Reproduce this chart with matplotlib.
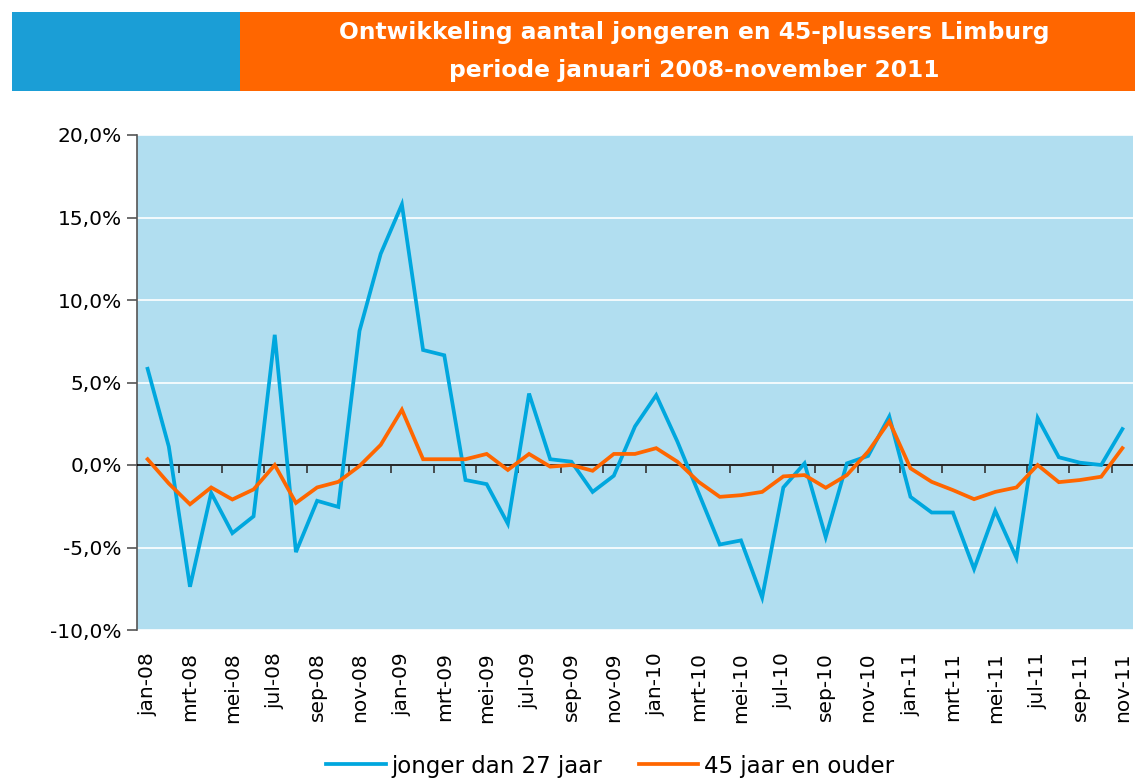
import matplotlib
matplotlib.use("Agg")
import matplotlib.pyplot as plt
from matplotlib.patches import Rectangle
from matplotlib.ticker import NullFormatter

months = ["jan", "feb", "mrt", "apr", "mei", "jun", "jul", "aug", "sep", "okt", "nov", "dec"]
categories = [f"{m}-{y:02d}" for y in (8, 9, 10, 11) for m in months][:47]

jongeren = [5.83, 1.12, -7.38, -1.69, -4.13, -3.11, 7.89, -5.28, -2.17, -2.54, 8.13, 12.8,
            15.79, 6.97, 6.65, -0.91, -1.16, -3.56, 4.33, 0.35, 0.20, -1.63, -0.65, 2.34,
            4.23, 1.42, -1.69, -4.82, -4.57, -8.03, -1.36, 0.10, -4.37, 0.10, 0.55, 2.94,
            -1.93, -2.88, -2.88, -6.30, -2.78, -5.63, 2.85, 0.47, 0.14, 0.00, 2.18]
plus45 = [0.35, -1.12, -2.38, -1.36, -2.09, -1.48, 0.00, -2.30, -1.36, -1.02, -0.06, 1.22,
          3.35, 0.35, 0.35, 0.35, 0.67, -0.30, 0.67, -0.10, 0.00, -0.35, 0.67, 0.67,
          1.02, 0.20, -1.02, -1.93, -1.83, -1.63, -0.69, -0.61, -1.38, -0.61, 0.81, 2.64,
          -0.20, -1.02, -1.52, -2.07, -1.63, -1.36, 0.00, -1.04, -0.91, -0.71, 1.02]

series_names = ["jonger dan 27 jaar", "45 jaar en ouder"]
title_lines = ["Ontwikkeling aantal jongeren en 45-plussers Limburg",
               "periode januari 2008-november 2011"]
yticks = [-10, -5, 0, 5, 10, 15, 20]

BLUE = "#00A7DE"
ORANGE = "#FF6600"
BG = "#B1DEF0"
BANNER_BLUE = "#1B9ED6"

W, H = 1135, 778
fig = plt.figure(figsize=(W / 100, H / 100), dpi=100)
fig.patch.set_facecolor("white")

# Banner
fig.patches.append(Rectangle((12 / W, 1 - 91 / H), (240 - 12) / W, 79 / H,
                             transform=fig.transFigure, facecolor=BANNER_BLUE,
                             edgecolor="none", zorder=0))
fig.patches.append(Rectangle((240 / W, 1 - 91 / H), (W - 240) / W, 79 / H,
                             transform=fig.transFigure, facecolor=ORANGE,
                             edgecolor="none", zorder=0))
fig.text(694 / W, 1 - 33 / H, title_lines[0], color="white", fontsize=16.8,
         fontweight="bold", ha="center", va="center")
fig.text(694 / W, 1 - 71 / H, title_lines[1], color="white", fontsize=16.8,
         fontweight="bold", ha="center", va="center")

left, right, top, bottom = 137 / W, 1133 / W, 1 - 135 / H, 1 - 630 / H
ax = fig.add_axes([left, bottom, right - left, top - bottom])
ax.set_facecolor(BG)

x = list(range(len(categories)))
ax.plot(x, jongeren, color=BLUE, lw=2.7, label=series_names[0], zorder=4,
        solid_joinstyle="miter")
ax.plot(x, plus45, color=ORANGE, lw=2.7, label=series_names[1], zorder=5,
        solid_joinstyle="miter")

ymin, ymax = -10, 20
ax.set_xlim(-0.5, len(categories) - 0.5)
ax.set_ylim(ymin, ymax)
ax.set_yticks(yticks)
ax.set_yticklabels([f"{v:.1f}%".replace(".", ",") for v in yticks], fontsize=14.5)
ax.yaxis.grid(True, color="white", lw=1.2)
ax.set_axisbelow(True)
ax.axhline(0, color="black", lw=1.2, zorder=3)

for s in ["top", "right", "bottom"]:
    ax.spines[s].set_visible(False)
ax.spines["left"].set_color("#555555")
ax.spines["left"].set_linewidth(1.2)
ax.tick_params(axis="y", direction="out", length=7, width=1.2, color="#555555", pad=4)

ax.set_xticks(x[::2])
ax.set_xticklabels(categories[::2], rotation=90, fontsize=14.5)
ax.tick_params(axis="x", length=0, pad=16)

# tick marks on the zero line between categories
sec = ax.secondary_xaxis((0 - ymin) / (ymax - ymin))
sec.spines["bottom"].set_visible(False)
sec.set_xticks([i + 1.5 for i in range(0, len(categories) - 1, 2)])
sec.xaxis.set_major_formatter(NullFormatter())
sec.tick_params(axis="x", direction="out", length=6, width=1.2, color="#333333")

fig.legend(loc="center", bbox_to_anchor=(610 / W, 1 - 766 / H), ncol=2, frameon=False,
           fontsize=16.5, handlelength=2.6, handletextpad=0.25, columnspacing=1.6)

fig.savefig("out.png", dpi=100)
